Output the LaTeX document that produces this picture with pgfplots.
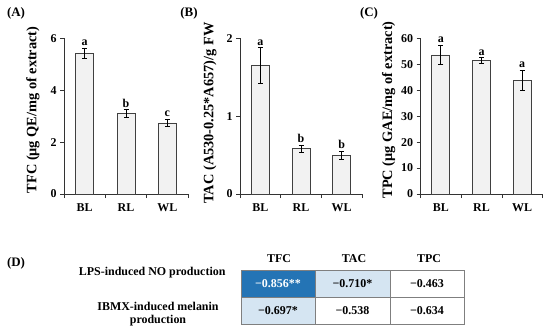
\documentclass[border=0pt]{standalone}
\usepackage{pgfplots}
\usepackage{pgfplotstable}
\pgfplotsset{compat=1.18}
\usepackage{fontspec}
\setmainfont{Liberation Serif}
\definecolor{barfill}{HTML}{F2F2F2}
\definecolor{dblue}{HTML}{2474B5}
\definecolor{lblue}{HTML}{D5E5F2}
\definecolor{gridc}{HTML}{7F7F7F}

\pgfplotsset{
  panel/.style={
    scale only axis, height=155.7bp,
    axis x line*=bottom, axis y line*=left,
    xmin=0.5, xmax=3.5,
    xtick={0.5,1.5,2.5,3.5}, xticklabels={},
    extra x ticks={1,2,3}, extra x tick labels={BL,RL,WL},
    extra x tick style={major tick length=0pt},
    tick align=outside, major tick length=4bp,
    tick style={black!80, line width=0.6bp},
    axis line style={black!80, line width=0.8bp},
    ymin=0,
    /pgf/number format/assume math mode=true,
    ticklabel style={font=\bfseries\fontsize{12}{14}\selectfont},
    xticklabel style={yshift=-6bp},
    every axis y label/.style={rotate=90, anchor=center, font=\bfseries\fontsize{14.4}{16}\selectfont},
    clip=false,
  },
  barplot/.style={ybar, bar width=18bp, fill=barfill, draw=black!75, line width=0.7bp,
    error bars/.cd, y dir=both, y explicit,
    error bar style={black, line width=0.7bp},
    error mark options={rotate=90, mark size=2.5bp, line width=0.7bp, black}},
  letters/.style={draw=none, nodes near coords, point meta=explicit symbolic,
    nodes near coords style={font=\bfseries\fontsize{12}{14}\selectfont, anchor=south, inner sep=1bp, yshift=1bp}},
}

\pgfplotstableread{
x y e l
1 5.43 0.20 a
2 3.10 0.15 b
3 2.74 0.15 c
}\tfc
\pgfplotstableread{
x y e l
1 1.65 0.23 a
2 0.58 0.05 b
3 0.50 0.05 b
}\tac
\pgfplotstableread{
x y e l
1 53.6 3.7 a
2 51.4 1.2 a
3 43.9 3.8 a
}\tpc

\begin{document}
\begin{tikzpicture}[x=1bp,y=1bp]
\useasboundingbox (0,0) rectangle (550,335);

% Panel A
\begin{axis}[panel, at={(64bp,141bp)}, anchor=south west, width=124bp,
  ymax=6, ytick={0,2,4,6},
  ylabel={TFC (μg QE/mg of extract)},
  every axis y label/.append style={at={(axis description cs:-0.25,0.54)}}]
\addplot[barplot] table[x=x,y=y,y error=e] {\tfc};
\addplot[letters] table[x=x, y expr=\thisrow{y}+\thisrow{e}, meta=l] {\tfc};
\end{axis}

% Panel B
\begin{axis}[panel, at={(240bp,141bp)}, anchor=south west, width=122bp,
  ymax=2, ytick={0,1,2},
  ylabel={TAC (A530-0.25*A657)/g FW},
  every axis y label/.append style={at={(axis description cs:-0.246,0.52)}}]
\addplot[barplot] table[x=x,y=y,y error=e] {\tac};
\addplot[letters] table[x=x, y expr=\thisrow{y}+\thisrow{e}, meta=l] {\tac};
\end{axis}

% Panel C
\begin{axis}[panel, at={(420.5bp,141bp)}, anchor=south west, width=122bp,
  ymax=60, ytick={0,10,...,60},
  ylabel={TPC (μg GAE/mg of extract)},
  every axis y label/.append style={at={(axis description cs:-0.262,0.54)}}]
\addplot[barplot] table[x=x,y=y,y error=e] {\tpc};
\addplot[letters] table[x=x, y expr=\thisrow{y}+\thisrow{e}, meta=l] {\tpc};
\end{axis}

% Panel labels
\node[font=\bfseries\fontsize{13}{15}\selectfont] at (16,322) {(A)};
\node[font=\bfseries\fontsize{13}{15}\selectfont] at (189,322) {(B)};
\node[font=\bfseries\fontsize{13}{15}\selectfont] at (369,322) {(C)};
\node[font=\bfseries\fontsize{13}{15}\selectfont] at (16,72) {(D)};

% Table D
\fill[dblue] (241,38) rectangle (315,65);
\fill[lblue] (315,38) rectangle (390,65);
\fill[lblue] (241,11) rectangle (315,38);
\draw[gridc, line width=0.8bp] (241,11) rectangle (464,65);
\draw[gridc, line width=0.8bp] (241,38) -- (464,38);
\draw[gridc, line width=0.8bp] (315,11) -- (315,65);
\draw[gridc, line width=0.8bp] (390,11) -- (390,65);
\begin{scope}[every node/.style={font=\bfseries\fontsize{12}{14}\selectfont}]
\node at (279,76) {TFC};
\node at (354,76) {TAC};
\node at (429,76) {TPC};
\node[anchor=east] at (229,62) {LPS-induced NO production};
\node[align=center] at (158,21) {IBMX-induced melanin\\[-1bp]production};
\node[text=white] at (278,51.5) {−0.856**};
\node at (352.5,51.5) {−0.710*};
\node at (427,51.5) {−0.463};
\node at (278,24.5) {−0.697*};
\node at (352.5,24.5) {−0.538};
\node at (427,24.5) {−0.634};
\end{scope}
\end{tikzpicture}
\end{document}
